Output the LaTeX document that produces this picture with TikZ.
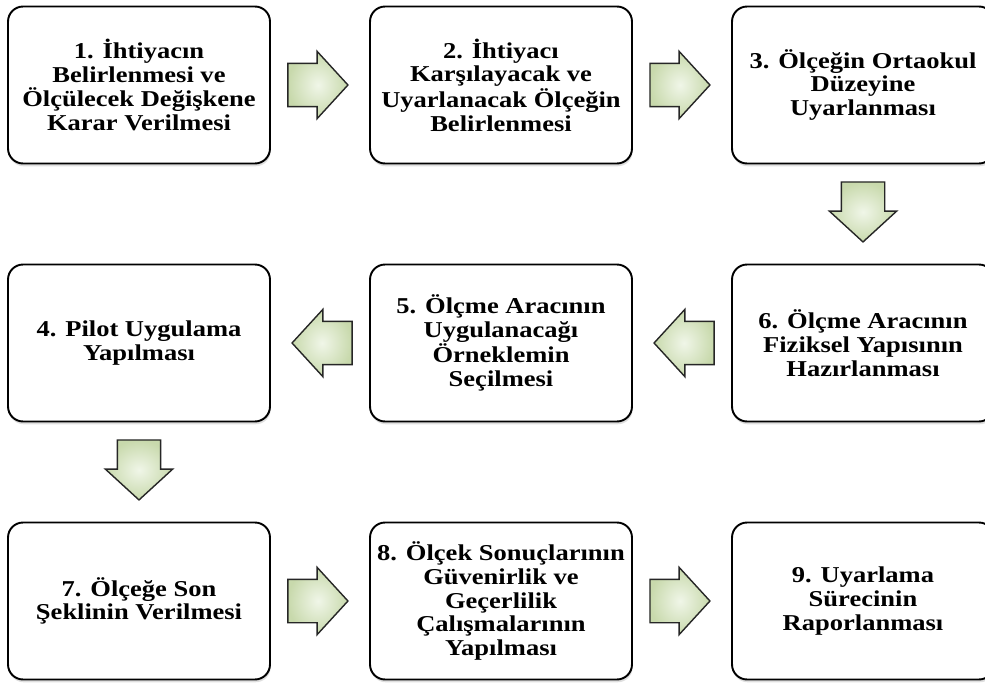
\documentclass[tikz,border=0pt]{standalone}
\usepackage{fontspec}
\newfontfamily\boxfont[FakeStretch=1.17]{Liberation Serif}
\usetikzlibrary{calc,shapes.arrows,shadows}
\definecolor{arrowfill}{RGB}{200,217,172}
\definecolor{arrowlight}{RGB}{240,246,232}
\begin{document}
\begin{tikzpicture}[
    x=0.02cm, y=-0.02cm,
    stepbox/.style={
        draw=black,
        line width=1.1pt,
        rounded corners=0.3cm,
        fill=white,
        minimum width=5.24cm,
        minimum height=3.14cm,
        align=center,
        font=\boxfont\bfseries\fontsize{12.9pt}{13.5pt}\selectfont,
        drop shadow={shadow xshift=0.4pt, shadow yshift=-1.6pt, opacity=0.25}
    },
    flowarrow/.style={
        single arrow,
        draw=black!85,
        line width=0.8pt,
        inner xsep=0pt,
        inner ysep=0.42cm,
        minimum height=1.2cm,
        minimum width=1.32cm,
        single arrow head extend=0.24cm,
        single arrow tip angle=95,
        shading=radial,
        inner color=arrowlight,
        outer color=arrowfill,
        rotate=#1,
        xshift=-0.24cm
    },
    flowarrow/.default=0
]
    \useasboundingbox (0,0) rectangle (985,683);

    % steps, row by row
    \foreach[count=~] \t in {
        {1. İhtiyacın\\Belirlenmesi ve\\Ölçülecek Değişkene\\Karar Verilmesi},
        {2. İhtiyacı\\Karşılayacak ve\\Uyarlanacak Ölçeğin\\Belirlenmesi},
        {3. Ölçeğin Ortaokul\\Düzeyine\\Uyarlanması},
        {4. Pilot Uygulama\\Yapılması},
        {5. Ölçme Aracının\\Uygulanacağı\\Örneklemin\\Seçilmesi},
        {6. Ölçme Aracının\\Fiziksel Yapısının\\Hazırlanması},
        {7. Ölçeğe Son\\Şeklinin Verilmesi},
        {8. Ölçek Sonuçlarının\\Güvenirlik ve\\Geçerlilik\\Çalışmalarının\\Yapılması},
        {9. Uyarlama\\Sürecinin\\Raporlanması}} {
        \node[stepbox] (b~) at ({139+362*mod(~-1,3)}, {85+258*div(~-1,3)}) {\t};
    }

    % block arrows
    \node[flowarrow] (a12) at ($(b1.east)!0.5!(b2.west)$) {};
    \node[flowarrow] (a23) at ($(b2.east)!0.5!(b3.west)$) {};
    \node[flowarrow=-90] (a36) at ($(b3.south)!0.5!(b6.north)$) {};
    \node[flowarrow=180] (a65) at ($(b6.west)!0.5!(b5.east)$) {};
    \node[flowarrow=180] (a54) at ($(b5.west)!0.5!(b4.east)$) {};
    \node[flowarrow=-90] (a47) at ($(b4.south)!0.5!(b7.north)$) {};
    \node[flowarrow] (a78) at ($(b7.east)!0.5!(b8.west)$) {};
    \node[flowarrow] (a89) at ($(b8.east)!0.5!(b9.west)$) {};
\end{tikzpicture}
\end{document}
